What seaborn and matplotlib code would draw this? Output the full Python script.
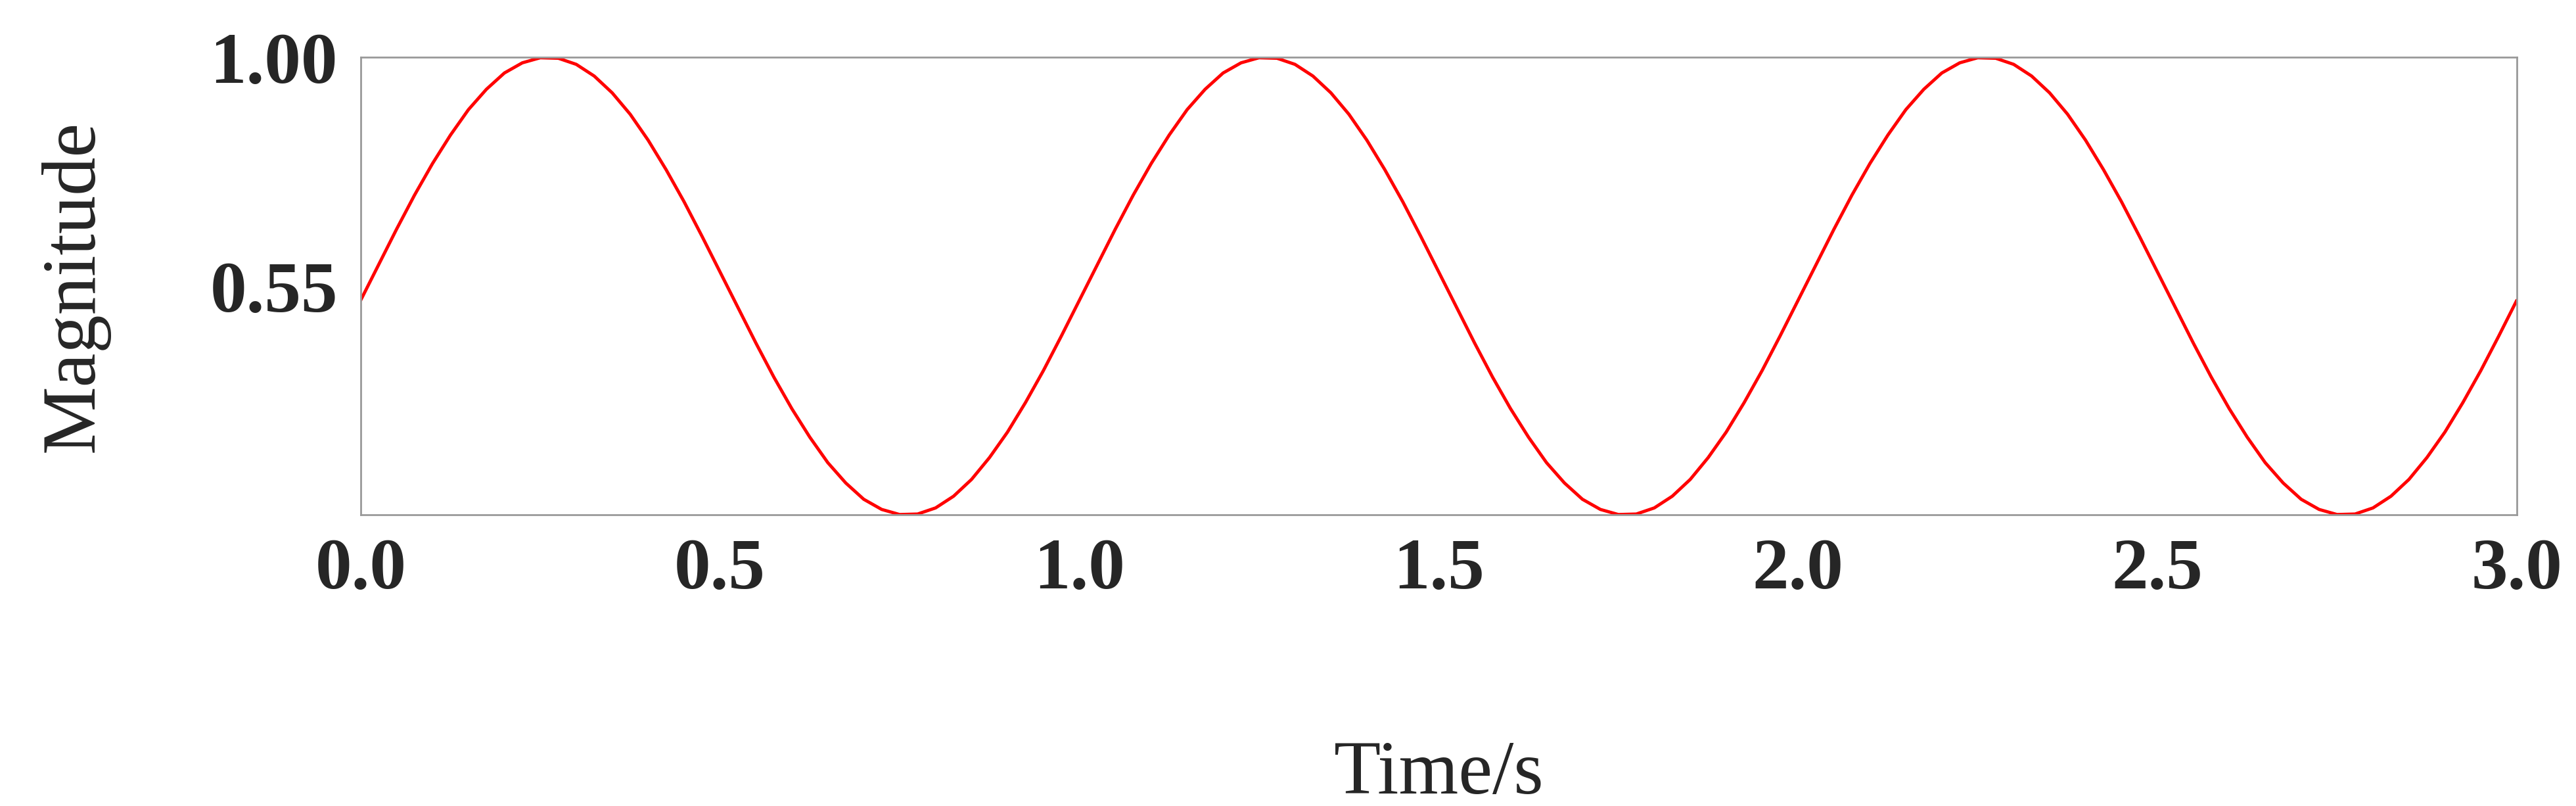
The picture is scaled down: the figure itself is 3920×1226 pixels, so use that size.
import numpy as np
import pandas as pd
import matplotlib
matplotlib.use("Agg")
import matplotlib.pyplot as plt
import seaborn as sns

# values, every 0.025 s (one period repeats three times)
one_period = [
    0.522, 0.592, 0.662, 0.729, 0.791, 0.847, 0.897, 0.937, 0.969, 0.989,
    0.999, 0.998, 0.986, 0.963, 0.930, 0.888, 0.837, 0.779, 0.716, 0.648,
    0.578, 0.508, 0.438, 0.371, 0.309, 0.253, 0.203, 0.163, 0.131, 0.111,
    0.101, 0.102, 0.114, 0.137, 0.170, 0.213, 0.263, 0.321, 0.384, 0.452,
]
magnitude = one_period + one_period + one_period + [0.522]
time_s = [round(0.025 * i, 3) for i in range(len(magnitude))]
x_ticks = [0.0, 0.5, 1.0, 1.5, 2.0, 2.5, 3.0]
y_ticks = [0.55, 1.00]

df = pd.DataFrame({"t": time_s, "m": magnitude})

sns.set_style("white")
plt.rcParams["font.family"] = ["Liberation Serif", "DejaVu Serif"]

fig = plt.figure(figsize=(39.2, 12.26), dpi=100)
ax = fig.add_axes([0.140, 0.361, 0.837, 0.568])
sns.lineplot(data=df, x="t", y="m", color="red", linewidth=3.5, ax=ax)

ax.set_xlim(0, 3)
ax.set_ylim(0.1, 1.0)
ax.set_xticks(x_ticks)
ax.set_xticklabels([f"{v:.1f}" for v in x_ticks], fontsize=80, fontweight="bold")
ax.set_yticks(y_ticks)
ax.set_yticklabels([f"{v:.2f}" for v in y_ticks], fontsize=80, fontweight="bold")
ax.tick_params(length=0, pad=25)
ax.set_xlabel("Time/s", fontsize=84, labelpad=150)
ax.set_ylabel("Magnitude", fontsize=84, labelpad=110)
for s in ax.spines.values():
    s.set_color("#999999")
    s.set_linewidth(2)

fig.savefig("out.png", dpi=100)
